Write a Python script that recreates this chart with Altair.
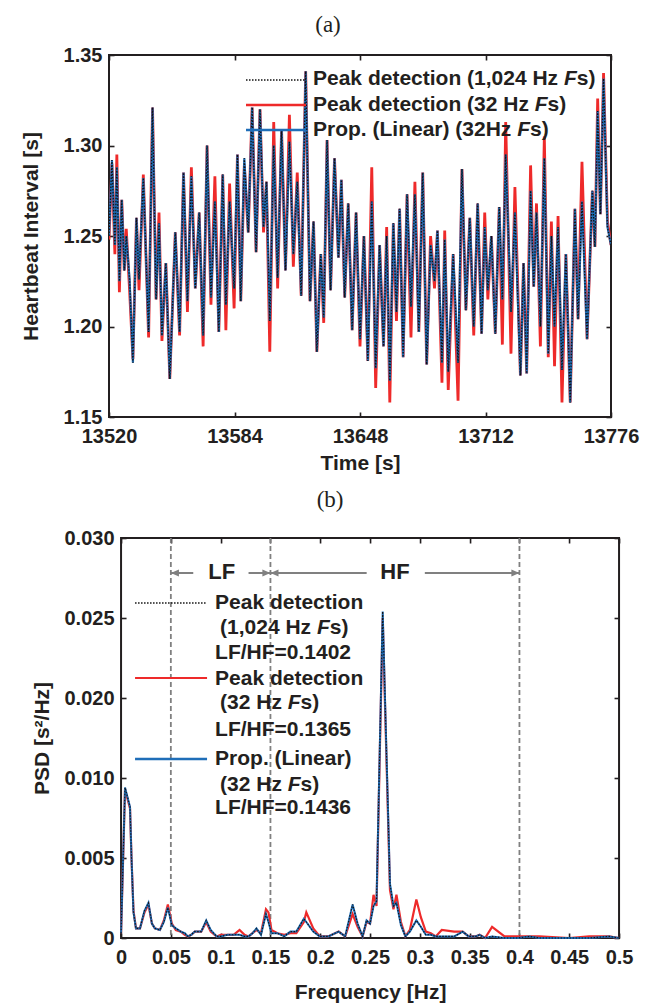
import altair as alt
import pandas as pd

# ---------------- (a) heartbeat-interval traces (extremes) ----------------
beat_time = [
    13520.0, 13521.5, 13523.0, 13524.0, 13525.3, 13526.5, 13527.8, 13528.8, 13530.5, 13532.2,
    13534.0, 13535.3, 13537.5, 13540.2, 13542.2, 13544.0, 13545.5, 13547.0, 13549.0, 13551.0,
    13553.8, 13556.0, 13558.0, 13560.0, 13562.0, 13564.0, 13566.0, 13568.0, 13570.0, 13572.0,
    13574.0, 13576.0, 13578.0, 13579.6, 13581.5, 13583.8, 13585.5, 13587.2, 13589.0, 13591.0,
    13593.0, 13595.0, 13597.0, 13598.8, 13600.3, 13602.0, 13604.0, 13606.0, 13608.0, 13610.0,
    13612.0, 13614.0, 13616.0, 13618.0, 13620.3, 13622.5, 13624.3, 13626.0, 13628.0, 13629.5,
    13631.2, 13633.0, 13635.0, 13637.0, 13638.5, 13640.2, 13642.0, 13644.0, 13646.0, 13648.0,
    13650.0, 13652.0, 13654.0, 13656.0, 13658.0, 13660.0, 13661.6, 13663.2, 13665.0, 13666.6,
    13668.2, 13670.0, 13672.0, 13674.0, 13676.0, 13678.0, 13680.0, 13682.0, 13684.0, 13686.0,
    13687.5, 13689.8, 13691.2, 13693.0, 13695.5, 13698.0, 13700.0, 13702.0, 13704.0, 13706.0,
    13708.0, 13710.0, 13711.6, 13713.2, 13715.0, 13717.0, 13719.0, 13720.6, 13722.3, 13725.0,
    13727.0, 13729.8, 13731.4, 13733.0, 13735.0, 13736.6, 13738.0, 13740.0, 13742.0, 13744.0,
    13745.6, 13747.2, 13749.0, 13751.0, 13753.0, 13755.2, 13757.6, 13759.2, 13761.2, 13763.8,
    13766.5, 13767.8, 13769.2, 13770.6, 13772.2, 13774.2, 13776.0,
]
hb_prop = [
    1.250, 1.292, 1.245, 1.288, 1.225, 1.270, 1.231, 1.250, 1.226, 1.180,
    1.260, 1.226, 1.282, 1.197, 1.321, 1.215, 1.257, 1.195, 1.235, 1.171,
    1.252, 1.197, 1.285, 1.214, 1.283, 1.221, 1.263, 1.195, 1.300, 1.216,
    1.269, 1.197, 1.284, 1.212, 1.269, 1.221, 1.295, 1.214, 1.293, 1.252,
    1.321, 1.241, 1.320, 1.255, 1.280, 1.203, 1.300, 1.227, 1.309, 1.231,
    1.302, 1.240, 1.280, 1.217, 1.341, 1.214, 1.258, 1.186, 1.240, 1.205,
    1.303, 1.220, 1.293, 1.238, 1.281, 1.216, 1.268, 1.198, 1.263, 1.193,
    1.250, 1.181, 1.269, 1.177, 1.245, 1.189, 1.250, 1.170, 1.257, 1.208,
    1.265, 1.183, 1.273, 1.211, 1.273, 1.197, 1.285, 1.179, 1.245, 1.225,
    1.253, 1.180, 1.248, 1.175, 1.240, 1.180, 1.287, 1.209, 1.260, 1.200,
    1.268, 1.196, 1.255, 1.220, 1.250, 1.196, 1.266, 1.215, 1.295, 1.208,
    1.263, 1.173, 1.235, 1.174, 1.275, 1.222, 1.263, 1.200, 1.293, 1.185,
    1.250, 1.200, 1.255, 1.176, 1.240, 1.158, 1.265, 1.204, 1.269, 1.193,
    1.275, 1.244, 1.319, 1.262, 1.337, 1.255, 1.245,
]
hb_32 = [
    1.248, 1.290, 1.240, 1.295, 1.219, 1.270, 1.231, 1.254, 1.220, 1.182,
    1.260, 1.220, 1.284, 1.194, 1.321, 1.215, 1.263, 1.192, 1.235, 1.171,
    1.252, 1.195, 1.285, 1.208, 1.288, 1.221, 1.263, 1.189, 1.300, 1.212,
    1.283, 1.197, 1.284, 1.198, 1.279, 1.210, 1.295, 1.214, 1.289, 1.252,
    1.321, 1.241, 1.320, 1.252, 1.280, 1.186, 1.313, 1.221, 1.309, 1.231,
    1.317, 1.233, 1.285, 1.217, 1.341, 1.214, 1.258, 1.186, 1.240, 1.202,
    1.303, 1.220, 1.293, 1.238, 1.281, 1.216, 1.268, 1.198, 1.263, 1.189,
    1.250, 1.181, 1.288, 1.166, 1.245, 1.189, 1.255, 1.158, 1.257, 1.203,
    1.265, 1.183, 1.273, 1.194, 1.280, 1.197, 1.285, 1.179, 1.250, 1.221,
    1.253, 1.169, 1.253, 1.165, 1.240, 1.159, 1.287, 1.209, 1.260, 1.195,
    1.268, 1.196, 1.263, 1.215, 1.250, 1.196, 1.266, 1.190, 1.313, 1.185,
    1.277, 1.173, 1.235, 1.174, 1.289, 1.222, 1.268, 1.189, 1.305, 1.183,
    1.258, 1.178, 1.261, 1.158, 1.240, 1.158, 1.265, 1.204, 1.291, 1.193,
    1.275, 1.244, 1.326, 1.262, 1.340, 1.258, 1.245,
]
# the 1,024 Hz reference trace coincides with the proposed trace at this resolution
hb_1024 = list(hb_prop)
time_ticks = [13520, 13584, 13648, 13712, 13776]
hb_ticks = [1.15, 1.20, 1.25, 1.30, 1.35]

# ---------------- (b) PSD (plotted-axis units; the printed tick labels skip 0.015) ----------------
freq = [
    0.000, 0.004, 0.009, 0.0105, 0.0125, 0.015, 0.019, 0.0235, 0.0275, 0.031,
    0.034, 0.039, 0.043, 0.047, 0.051, 0.055, 0.060, 0.064, 0.067, 0.0705,
    0.074, 0.0805, 0.0855, 0.090, 0.096, 0.100, 0.107, 0.113, 0.119, 0.124,
    0.128, 0.132, 0.136, 0.1405, 0.1455, 0.148, 0.151, 0.157, 0.164, 0.170,
    0.176, 0.1835, 0.186, 0.193, 0.1995, 0.208, 0.2185, 0.225, 0.2325, 0.2375,
    0.2425, 0.2465, 0.250, 0.2535, 0.2565, 0.2627, 0.270, 0.2735, 0.2765, 0.281,
    0.2855, 0.290, 0.2965, 0.301, 0.306, 0.311, 0.316, 0.322, 0.3345, 0.343,
    0.349, 0.356, 0.360, 0.3655, 0.3725, 0.385, 0.398, 0.410, 0.420, 0.450,
    0.470, 0.490, 0.500,
]
psd_prop = [
    0.0003, 0.0094, 0.0082, 0.0050, 0.0016, 0.0006, 0.0006, 0.0017, 0.0022, 0.0009,
    0.0006, 0.0005, 0.0010, 0.0019, 0.0008, 0.0006, 0.0004, 0.0003, 0.0001, 0.0002,
    0.0004, 0.0004, 0.0011, 0.0005, 0.0001, 0.0001, 0.0002, 0.0002, 0.0002, 0.0001,
    0.0001, 0.0003, 0.0006, 0.0002, 0.0015, 0.0010, 0.0003, 0.0003, 0.0001, 0.0004,
    0.0004, 0.0012, 0.0010, 0.0004, 0.0001, 0.0001, 0.0004, 0.0001, 0.0021, 0.0009,
    0.0001, 0.0011, 0.0009, 0.0020, 0.0023, 0.0204, 0.0034, 0.0020, 0.0022, 0.0008,
    0.0001, 0.0004, 0.0011, 0.0007, 0.0002, 0.0002, 0.0001, 0.0001, 0.0001, 0.0004,
    0.0001, 0.0001, 0.0002, 0.0000, 0.0001, 0.0000, 0.0000, 0.0001, 0.0000, 0.0000,
    0.0000, 0.0001, 0.0000,
]
psd_32 = [
    0.0003, 0.0093, 0.0081, 0.0050, 0.0017, 0.0006, 0.0006, 0.0016, 0.0021, 0.0009,
    0.0006, 0.0005, 0.0011, 0.0021, 0.0009, 0.0005, 0.0004, 0.0002, 0.0001, 0.0002,
    0.0004, 0.0004, 0.0010, 0.0004, 0.0001, 0.0002, 0.0002, 0.0002, 0.0005, 0.0002,
    0.0001, 0.0003, 0.0005, 0.0003, 0.0018, 0.0016, 0.0005, 0.0003, 0.0002, 0.0003,
    0.0003, 0.0010, 0.0016, 0.0006, 0.0001, 0.0001, 0.0004, 0.0001, 0.0015, 0.0007,
    0.0001, 0.0010, 0.0009, 0.0027, 0.0020, 0.0200, 0.0030, 0.0018, 0.0027, 0.0010,
    0.0001, 0.0005, 0.0024, 0.0013, 0.0004, 0.0003, 0.0001, 0.0005, 0.0004, 0.0004,
    0.0001, 0.0001, 0.0002, 0.0000, 0.0007, 0.0001, 0.0001, 0.0001, 0.0001, 0.0000,
    0.0001, 0.0001, 0.0000,
]
psd_1024 = list(psd_prop)
freq_ticks = [0, 0.05, 0.1, 0.15, 0.2, 0.25, 0.3, 0.35, 0.4, 0.45, 0.5]
psd_ticks = [0, 0.005, 0.010, 0.015, 0.020, 0.025]
psd_tick_labels = ["0", "0.005", "0.010", "0.020", "0.025", "0.030"]

band_edges = [0.05, 0.15, 0.4]
band_labels = [("LF", 0.101), ("HF", 0.275)]
# arrows: (start, tip)
band_arrows = [(0.0725, 0.05), (0.128, 0.15), (0.2466, 0.15), (0.305, 0.4)]

# ---------------- styling ----------------
FONT = "Liberation Sans"
INK = "#231f20"
RED = "#ee2a2a"
BLUE = "#1f6eb8"
GRAY = "#808080"
TICK = 5

# Helvetica/Arial Bold advance widths (1/1000 em) for placing the italic "F"
AW = {' ': 278, '(': 333, ')': 333, ',': 278, '.': 278, '/': 278, '=': 584,
      'F': 611, 'H': 722, 'L': 611, 'P': 667, 'a': 556, 'c': 556, 'd': 611,
      'e': 556, 'i': 278, 'k': 556, 'n': 611, 'o': 611, 'p': 611, 'r': 389,
      's': 556, 't': 333, 'z': 500}
for ch in "0123456789":
    AW[ch] = 556


def tw(s, size):
    return sum(AW.get(c, 556) for c in s) * size / 1000.0


one = pd.DataFrame({"k": [0]})
LEG_SIZE = 21


def text_piece(txt, x, y, italic=False, size=LEG_SIZE):
    return alt.Chart(one).mark_text(
        text=txt, x=x, y=y, align="left", baseline="middle", font=FONT,
        fontSize=size, fontWeight="bold", fontStyle="italic" if italic else "normal",
        color=INK)


def fs_line(prefix, x, y, size=LEG_SIZE):
    """prefix + italic F + 's)'"""
    w1 = tw(prefix, size)
    wf = tw("F", size)
    return [text_piece(prefix, x, y, size=size),
            text_piece("F", x + w1, y, italic=True, size=size),
            text_piece("s)", x + w1 + wf, y, size=size)]


def leg_line(x1, x2, y, color, width, dash=None):
    kw = dict(color=color, strokeWidth=width)
    if dash:
        kw["strokeDash"] = dash
    return alt.Chart(one).mark_rule(**kw).encode(
        x=alt.value(x1), x2=alt.value(x2), y=alt.value(y))


def axes(xvals, yvals, xtitle, ytitle, xlabel_expr=None, ylabel_expr=None,
         ytitle_pad=20, xtitle_pad=6):
    common = dict(tickSize=TICK, offset=-TICK, domain=False, tickColor=INK,
                  tickWidth=1.6, grid=False)
    xa = dict(values=xvals, title=xtitle, labelPadding=9, titlePadding=xtitle_pad,
              labelFlush=False, **common)
    ya = dict(values=yvals, title=ytitle, labelPadding=7, titlePadding=ytitle_pad, **common)
    if xlabel_expr:
        xa["labelExpr"] = xlabel_expr
    if ylabel_expr:
        ya["labelExpr"] = ylabel_expr
    bottom = alt.Axis(orient="bottom", **xa)
    left = alt.Axis(orient="left", **ya)
    top = alt.Axis(orient="top", values=xvals, labels=False, title=None, **common)
    right = alt.Axis(orient="right", values=yvals, labels=False, title=None, **common)
    return bottom, left, top, right


# ---------------- panel (a) ----------------
WA, HA = 502, 362
df_a = pd.DataFrame({"t": beat_time, "ref": hb_1024, "low": hb_32, "prop": hb_prop})
xs_a = alt.Scale(domain=[13520, 13776], nice=False, zero=False)
ys_a = alt.Scale(domain=[1.15, 1.35], nice=False, zero=False)
bx, ly, tx, ry = axes(time_ticks, hb_ticks, "Time [s]", "Heartbeat Interval [s]",
                      xlabel_expr="format(datum.value, 'd')",
                      ylabel_expr="format(datum.value, '.2f')", ytitle_pad=22)

base_a = alt.Chart(df_a)
red_a = base_a.mark_line(color=RED, strokeWidth=2.8, clip=True).encode(
    x=alt.X("t:Q", scale=xs_a, axis=bx), y=alt.Y("low:Q", scale=ys_a, axis=ly))
blue_a = base_a.mark_line(color=BLUE, strokeWidth=2.2, clip=True).encode(
    x=alt.X("t:Q", scale=xs_a, axis=None), y=alt.Y("prop:Q", scale=ys_a, axis=None))
black_a = base_a.mark_line(color="#111111", strokeWidth=1.3, strokeDash=[1.5, 1.5], clip=True).encode(
    x=alt.X("t:Q", scale=xs_a, axis=None), y=alt.Y("ref:Q", scale=ys_a, axis=None))
ghost_a = base_a.mark_line(opacity=0).encode(
    x=alt.X("t:Q", scale=xs_a, axis=tx), y=alt.Y("prop:Q", scale=ys_a, axis=ry))
# invisible spacer that widens panel (a)'s bounds a little so panel (b) sits where it should
spacer_a = alt.Chart(one).mark_text(text=".", x=WA + 34, y=HA, align="right",
                                    fontSize=10, opacity=0)

lx1, lx2, ltx = 137, 197, 204
leg_a = [leg_line(lx1, lx2, 25, "#111111", 1.5, [1.5, 1.5]),
         leg_line(lx1, lx2, 50, RED, 2.6),
         leg_line(lx1, lx2, 75, BLUE, 2.4)]
leg_a += fs_line("Peak detection (1,024 Hz ", ltx, 24)
leg_a += fs_line("Peak detection (32 Hz ", ltx, 50)
leg_a += fs_line("Prop. (Linear) (32Hz ", ltx, 75)

panel_a = alt.layer(red_a, blue_a, black_a, ghost_a, spacer_a, *leg_a).resolve_axis(
    x="independent", y="independent").properties(
    width=WA, height=HA,
    title=alt.TitleParams("(a)", font="Liberation Serif", fontSize=23, fontWeight="normal",
                          anchor="middle", dx=-32, offset=8, color=INK))

# ---------------- panel (b) ----------------
WB, HB = 498, 400
df_b = pd.DataFrame({"f": freq, "ref": psd_1024, "low": psd_32, "prop": psd_prop})
xs_b = alt.Scale(domain=[0, 0.5], nice=False, zero=False)
ys_b = alt.Scale(domain=[0, 0.025], nice=False, zero=False)
lab_arr = "[" + ",".join("'%s'" % s for s in psd_tick_labels) + "]"
bxb, lyb, txb, ryb = axes(freq_ticks, psd_ticks, "Frequency [Hz]", "PSD [s\u00b2/Hz]",
                          xlabel_expr="format(datum.value, '~g')",
                          ylabel_expr=lab_arr + "[round(datum.value / 0.005)]",
                          ytitle_pad=12, xtitle_pad=14)

base_b = alt.Chart(df_b)
red_b = base_b.mark_line(color=RED, strokeWidth=2.2).encode(
    x=alt.X("f:Q", scale=xs_b, axis=bxb), y=alt.Y("low:Q", scale=ys_b, axis=lyb))
blue_b = base_b.mark_line(color=BLUE, strokeWidth=2.0).encode(
    x=alt.X("f:Q", scale=xs_b, axis=None), y=alt.Y("prop:Q", scale=ys_b, axis=None))
black_b = base_b.mark_line(color="#111111", strokeWidth=1.1, strokeDash=[1.5, 1.5]).encode(
    x=alt.X("f:Q", scale=xs_b, axis=None), y=alt.Y("ref:Q", scale=ys_b, axis=None))
ghost_b = base_b.mark_line(opacity=0).encode(
    x=alt.X("f:Q", scale=xs_b, axis=txb), y=alt.Y("prop:Q", scale=ys_b, axis=ryb))

edges_df = pd.DataFrame({"edge": band_edges})
dashed = alt.Chart(edges_df).mark_rule(color=GRAY, strokeWidth=1.8, strokeDash=[5, 3]).encode(
    x=alt.X("edge:Q", scale=xs_b, axis=None))

ARROW_Y = 35
arr_df = pd.DataFrame({"x0": [a[0] for a in band_arrows], "x1": [a[1] for a in band_arrows],
                       "dir": ["L" if a[1] < a[0] else "R" for a in band_arrows]})
shafts = alt.Chart(arr_df).mark_rule(color=GRAY, strokeWidth=2).encode(
    x=alt.X("x0:Q", scale=xs_b, axis=None), x2="x1:Q", y=alt.value(ARROW_Y))
heads_l = alt.Chart(arr_df).transform_filter("datum.dir == 'L'").mark_point(
    shape="M0,0L1,-0.42L1,0.42Z", filled=True, size=260, color=GRAY, opacity=1).encode(
    x=alt.X("x1:Q", scale=xs_b, axis=None), y=alt.value(ARROW_Y))
heads_r = alt.Chart(arr_df).transform_filter("datum.dir == 'R'").mark_point(
    shape="M0,0L-1,-0.42L-1,0.42Z", filled=True, size=260, color=GRAY, opacity=1).encode(
    x=alt.X("x1:Q", scale=xs_b, axis=None), y=alt.value(ARROW_Y))
lab_df = pd.DataFrame({"txt": [b[0] for b in band_labels], "pos": [b[1] for b in band_labels]})
band_text = alt.Chart(lab_df).mark_text(font=FONT, fontSize=22, fontWeight="bold", color=INK,
                                        baseline="middle").encode(
    x=alt.X("pos:Q", scale=xs_b, axis=None), y=alt.value(ARROW_Y - 1), text="txt:N")

bx1, bx2, btx = 14, 86, 94
leg_b = [leg_line(bx1, bx2, 65, "#111111", 1.5, [1.5, 1.5]),
         leg_line(bx1, bx2, 140, RED, 2.2),
         leg_line(bx1, bx2, 221, BLUE, 2.4)]
leg_b += [text_piece("Peak detection", btx, 65)]
leg_b += fs_line("(1,024 Hz ", btx + 5, 90)
leg_b += [text_piece("LF/HF=0.1402", btx, 115)]
leg_b += [text_piece("Peak detection", btx, 141)]
leg_b += fs_line("(32 Hz ", btx + 5, 165)
leg_b += [text_piece("LF/HF=0.1365", btx, 192)]
leg_b += [text_piece("Prop. (Linear)", btx, 221)]
leg_b += fs_line("(32 Hz ", btx + 5, 247)
leg_b += [text_piece("LF/HF=0.1436", btx, 270)]

panel_b = alt.layer(dashed, red_b, blue_b, black_b, ghost_b, shafts, heads_l, heads_r,
                    band_text, *leg_b).resolve_axis(
    x="independent", y="independent").properties(
    width=WB, height=HB,
    title=alt.TitleParams("(b)", font="Liberation Serif", fontSize=23, fontWeight="normal",
                          anchor="middle", dx=-40, offset=16, color=INK))

chart = alt.vconcat(panel_a, panel_b, spacing=14, center=True).properties(
    padding={"left": 11, "top": 5, "right": 0, "bottom": 0}
).configure_axis(
    labelFont=FONT, labelFontSize=20, labelFontWeight="bold", labelColor=INK,
    titleFont=FONT, titleFontSize=21, titleFontWeight="bold", titleColor=INK,
).configure_view(stroke=INK, strokeWidth=2)

chart.save("out.html", embed_options={"renderer": "svg", "actions": False})
